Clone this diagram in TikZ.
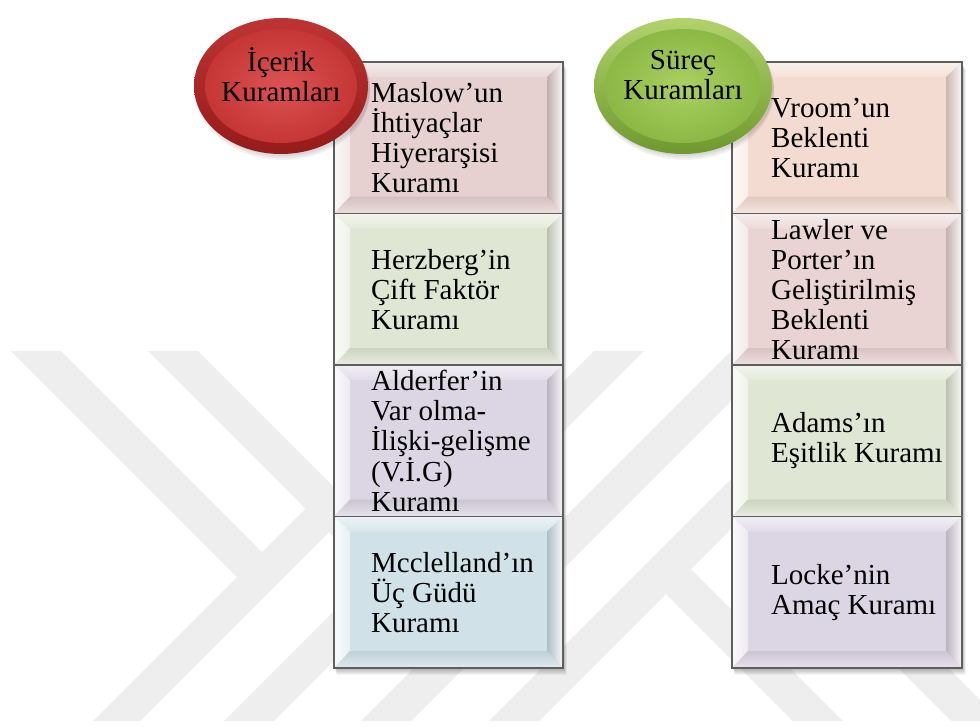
\documentclass[tikz,border=0pt]{standalone}
\usepackage{fontspec}
\setmainfont{Liberation Serif}
\usetikzlibrary{calc,shapes.geometric}

% palette
\definecolor{markgray}{HTML}{EEEEEE}
\definecolor{edgegray}{HTML}{5E5E5E}
\definecolor{rosec}{HTML}{E6D0D0}
\definecolor{sagec}{HTML}{DFE6D3}
\definecolor{lilacc}{HTML}{DCD6E4}
\definecolor{skyc}{HTML}{D0E2E8}
\definecolor{peachc}{HTML}{F3DBD1}
\definecolor{blushc}{HTML}{EAD3D3}
\definecolor{redtop}{HTML}{BE3434}
\definecolor{redbot}{HTML}{961B1B}
\definecolor{redin}{HTML}{DC5252}
\definecolor{redout}{HTML}{C53636}
\definecolor{greentop}{HTML}{B2D26C}
\definecolor{greenbot}{HTML}{6E992F}
\definecolor{greenin}{HTML}{AAD062}
\definecolor{greenout}{HTML}{8CB845}

\tikzset{
  % bevelled tile with a face colour
  bevbox/.style={rectangle, draw=edgegray, line width=1.1pt, fill=#1, inner sep=0pt,
    minimum width=229, minimum height=151.5,
    path picture={
      \coordinate (pA) at (path picture bounding box.north west);
      \coordinate (pB) at (path picture bounding box.north east);
      \coordinate (pC) at (path picture bounding box.south east);
      \coordinate (pD) at (path picture bounding box.south west);
      \coordinate (qA) at ($(pA)+(16,15)$);
      \coordinate (qB) at ($(pB)+(-16,15)$);
      \coordinate (qC) at ($(pC)+(-16,-17)$);
      \coordinate (qD) at ($(pD)+(16,-17)$);
      \shade[top color=#1!40!white, bottom color=#1!85!white] (pA) -- (pB) -- (qB) -- (qA) -- cycle;
      \shade[left color=#1!15!white, right color=#1!50!white] (pA) -- (qA) -- (qD) -- (pD) -- cycle;
      \shade[left color=#1!84!black, right color=#1!20!white] (qB) -- (pB) -- (pC) -- (qC) -- cycle;
      \shade[top color=#1!92!black, bottom color=#1!70!white] (qD) -- (qC) -- (pC) -- (pD) -- cycle;
    }},
  lbl/.style={font=\fontsize{29}{30}\selectfont, align=left, inner sep=0pt, anchor=west, text=black},
  disctxt/.style={font=\fontsize{29}{30}\selectfont, align=center, inner sep=0pt, text=black},
  disc/.style={ellipse, inner sep=0pt, minimum height=136},
  band/.style={fill=markgray}
}

\begin{document}
\begin{tikzpicture}[x=1pt,y=-1pt]
\useasboundingbox (0,0) rectangle (980,726);
\fill[white] (0,0) rectangle (980,726);

% faint background emblem made of 45 degree bands
\fill[band] (11,351) -- (61,351) -- (285.5,575.5) -- (260.5,600.5) -- cycle;
\fill[band] (93,721) -- (140,721) -- (329,532) -- (305.5,508.5) -- cycle;
\fill[band] (148,351) -- (198,351) -- (421,574) -- (396,599) -- cycle;
\fill[band] (224,721) -- (274,721) -- (644,351) -- (594,351) -- cycle;
\fill[band] (361,721) -- (411,721) -- (781,351) -- (731,351) -- cycle;
\fill[band] (489,721) -- (539,721) -- (909,351) -- (859,351) -- cycle;
\fill[band] (666,594) -- (691,569) -- (843,721) -- (793,721) -- cycle;
\fill[band] (745,515) -- (770,490) -- (1001,721) -- (951,721) -- cycle;

% soft shadows under the two columns
\foreach \d in {1,2,3,4,5,6,7} {
  \fill[black, opacity=0.045] (334+0.4*\d,62+\d) rectangle (563+0.5*\d,668+\d);
  \fill[black, opacity=0.045] (732+0.4*\d,62+\d) rectangle (962+0.5*\d,668+\d);
}

% left column
\node[bevbox=rosec]  (maslow)     at (448.5,137.75) {};
\node[bevbox=sagec]  (herzberg)   at (448.5,289.25) {};
\node[bevbox=lilacc] (alderfer)   at (448.5,440.75) {};
\node[bevbox=skyc]   (mcclelland) at (448.5,592.25) {};

% right column
\node[bevbox=peachc, minimum width=230] (vroom)  at (847,137.75) {};
\node[bevbox=blushc, minimum width=230] (lawler) at (847,289.25) {};
\node[bevbox=sagec,  minimum width=230] (adams)  at (847,440.75) {};
\node[bevbox=lilacc, minimum width=230] (locke)  at (847,592.25) {};

% tile texts
\node[lbl] (maslowtxt)     at ($(maslow.west)+(37.5,0)$)     {Maslow’un\\İhtiyaçlar\\Hiyerarşisi\\Kuramı};
\node[lbl] (herzbergtxt)   at ($(herzberg.west)+(37.5,0)$)   {Herzberg’in\\Çift Faktör\\Kuramı};
\node[lbl] (alderfertxt)   at ($(alderfer.west)+(37.5,0)$)   {Alderfer’in\\Var olma-\\İlişki-gelişme\\(V.İ.G)\\Kuramı};
\node[lbl] (mcclellandtxt) at ($(mcclelland.west)+(37.5,0)$) {Mcclelland’ın\\Üç Güdü\\Kuramı};
\node[lbl] (vroomtxt)      at ($(vroom.west)+(39.5,0)$)      {Vroom’un\\Beklenti\\Kuramı};
\node[lbl] (lawlertxt)     at ($(lawler.west)+(39.5,0)$)     {Lawler ve\\Porter’ın\\Geliştirilmiş\\Beklenti\\Kuramı};
\node[lbl] (adamstxt)      at ($(adams.west)+(39.5,0)$)      {Adams’ın\\Eşitlik Kuramı};
\node[lbl] (locketxt)      at ($(locke.west)+(39.5,0)$)      {Locke’nin\\Amaç Kuramı};

% heading discs
\foreach \d in {2,4,6} {
  \fill[black, opacity=0.05] (283,86+\d) ellipse [x radius=87, y radius=68];
  \fill[black, opacity=0.05] (685,86+\d) ellipse [x radius=89, y radius=68];
}
\node[disc, minimum width=174, top color=redtop, bottom color=redbot] (icerik) at (281,86) {};
\shade[inner color=redin, outer color=redout] (icerik.center) ellipse [x radius=76, y radius=57];
\node[disctxt] (iceriktxt) at (281,74.4) {İçerik\\Kuramları};

\node[disc, minimum width=178, top color=greentop, bottom color=greenbot] (surec) at (683,86) {};
\shade[inner color=greenin, outer color=greenout] (surec.center) ellipse [x radius=78, y radius=57];
\node[disctxt] (surectxt) at (683,75) {Süreç\\Kuramları};
\end{tikzpicture}
\end{document}
